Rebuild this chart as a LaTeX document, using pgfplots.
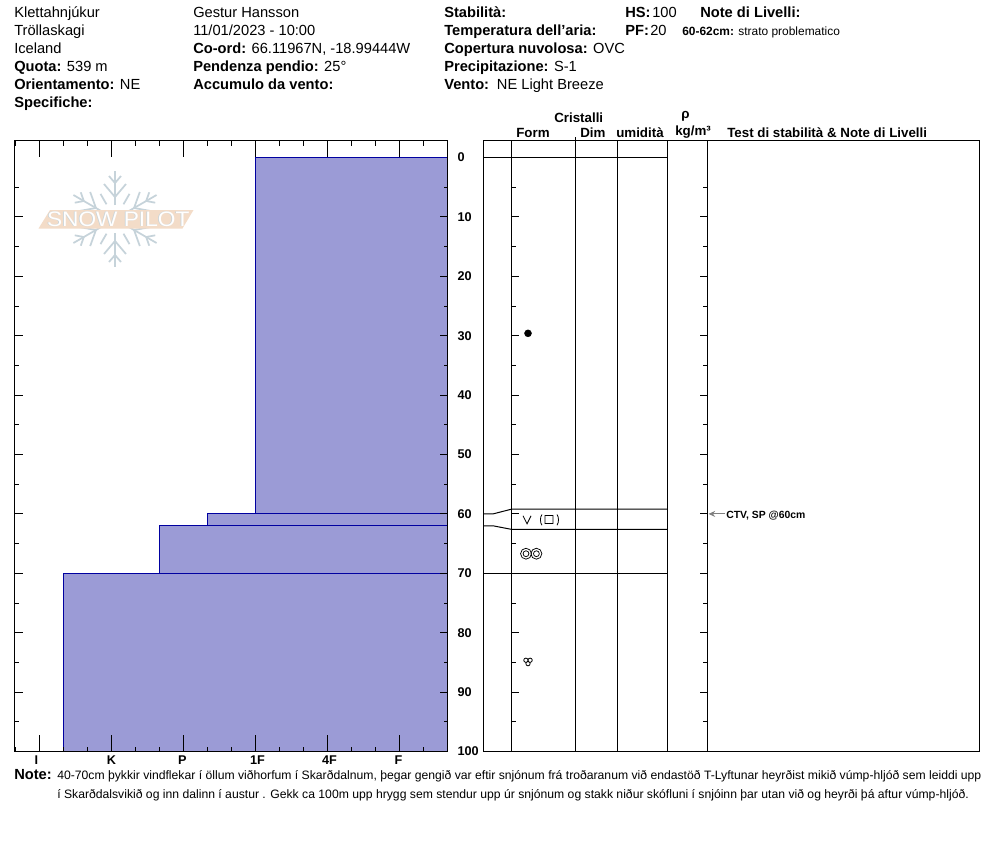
\documentclass[border=0pt]{standalone}
\usepackage{fontspec}
\setmainfont{Liberation Sans}
\usepackage{pgfplots}
\pgfplotsset{compat=1.18}
\usetikzlibrary{arrows.meta}

\definecolor{layerfill}{HTML}{9B9BD6}
\definecolor{layeredge}{HTML}{0000A0}
\definecolor{flake}{HTML}{C6D3DA}
\definecolor{peach}{HTML}{F3DCC8}

% crystal symbols, sizes in pixels of the reference (0.75pt)
\pgfdeclareplotmark{facet}{%
  \pgfsetlinewidth{0.6pt}%
  \pgfpathmoveto{\pgfpoint{-3pt}{3pt}}\pgfpathlineto{\pgfpoint{0pt}{-3pt}}\pgfpathlineto{\pgfpoint{3pt}{3pt}}%
  \pgfpathrectangle{\pgfpoint{13.5pt}{-2.8pt}}{\pgfpoint{6pt}{6pt}}%
  \pgfpathmoveto{\pgfpoint{11.2pt}{4pt}}\pgfpathcurveto{\pgfpoint{9.7pt}{2pt}}{\pgfpoint{9.7pt}{-2pt}}{\pgfpoint{11.2pt}{-4pt}}%
  \pgfpathmoveto{\pgfpoint{22.5pt}{4pt}}\pgfpathcurveto{\pgfpoint{24pt}{2pt}}{\pgfpoint{24pt}{-2pt}}{\pgfpoint{22.5pt}{-4pt}}%
  \pgfusepathqstroke}
\pgfdeclareplotmark{rounds}{%
  \pgfsetlinewidth{0.55pt}%
  \pgfpathcircle{\pgfpoint{0pt}{0pt}}{4.1pt}\pgfpathcircle{\pgfpoint{0pt}{0pt}}{2.2pt}%
  \pgfpathcircle{\pgfpoint{7.8pt}{0pt}}{4.1pt}\pgfpathcircle{\pgfpoint{7.8pt}{0pt}}{2.2pt}%
  \pgfusepathqstroke}
\pgfdeclareplotmark{trefoil}{%
  \pgfsetlinewidth{0.6pt}%
  \pgfpathcircle{\pgfpoint{-1.6pt}{1.2pt}}{1.6pt}\pgfpathcircle{\pgfpoint{1.6pt}{1.2pt}}{1.6pt}%
  \pgfpathcircle{\pgfpoint{0pt}{-1.4pt}}{1.6pt}%
  \pgfusepathqstroke}

\newcommand{\hdr}[3]{\node[anchor=base west,inner sep=0pt,font=\fontsize{11pt}{12pt}\selectfont] at (#1,#2) {#3};}
\newcommand{\col}[3]{\node[anchor=base west,inner sep=0pt,font=\fontsize{10pt}{11pt}\selectfont\bfseries] at (#1,#2) {#3};}

\pgfplotsset{
  snow/.style={
    scale only axis,
    y dir=reverse,
    ymin=-2.86, ymax=100,
    height=458.25pt,
    axis line style={line width=0.75pt},
    tick style={black,line width=0.75pt},
    tick align=inside,
    clip=false,
  },
}

\begin{document}
\begin{tikzpicture}
\begin{scope}[x=0.75pt,y=-0.75pt]
\path[use as bounding box] (0,0) rectangle (994,840);

% logo
\begin{scope}[shift={(115,219)},color=flake,line width=1.3pt]
\foreach \a in {30,90,150,210,270,330}{
  \begin{scope}[rotate=\a]
  \draw (14,0) -- (48,0);
  \draw (35,11) -- (22,0) -- (35,-11);
  \draw (43,6) -- (36,0) -- (43,-6);
  \end{scope}
}
\foreach \a in {60,120,240,300}{
  \draw (\a:17) -- (\a:29);
}
\end{scope}
\fill[peach] (38.5,228.5) -- (50,210) -- (193.5,210) -- (182.5,228.5) -- cycle;
\node[text=flake,inner sep=0pt] at (117.5,219.5) {\scalebox{1.62}[1.5]{\fontsize{10.5pt}{12pt}\selectfont SNOW PILOT}};
\node[text=white,inner sep=0pt] at (118.2,219.2) {\scalebox{1.62}[1.5]{\fontsize{10.5pt}{12pt}\selectfont SNOW PILOT}};

% header, first column
\hdr{14}{17}{Klettahnjúkur}
\hdr{14}{35}{Tröllaskagi}
\hdr{14}{53}{Iceland}
\hdr{14}{71}{\textbf{Quota:} 539 m}
\hdr{14}{89}{\textbf{Orientamento:} NE}
\hdr{14}{107}{\textbf{Specifiche:}}
% second column
\hdr{193}{17}{Gestur Hansson}
\hdr{193}{35}{11/01/2023 - 10:00}
\hdr{193}{53}{\textbf{Co-ord:} 66.11967N, -18.99444W}
\hdr{193}{71}{\textbf{Pendenza pendio:} 25°}
\hdr{193}{89}{\textbf{Accumulo da vento:}}
% third column
\hdr{444}{17}{\textbf{Stabilità:}}
\hdr{444}{35}{\textbf{Temperatura dell'aria:}}
\hdr{444}{53}{\textbf{Copertura nuvolosa:} OVC}
\hdr{444}{71}{\textbf{Precipitazione:} S-1}
\hdr{444}{89}{\textbf{Vento:}\, NE Light Breeze}
\hdr{625}{17}{\textbf{HS:}}
\hdr{652}{17}{100}
\hdr{625}{35}{\textbf{PF:}}
\hdr{650}{35}{20}
\hdr{700}{17}{\textbf{Note di Livelli:}}
\node[anchor=base west,inner sep=0pt,font=\fontsize{8.95pt}{10pt}\selectfont] at (682,35) {\textbf{60-62cm:} strato problematico};

% column heads
\col{554}{122}{Cristalli}
\col{516}{137}{Form}
\col{580}{137}{Dim}
\col{616}{137}{umidità}
\col{681}{118}{ρ}
\col{675}{135}{kg/m³}
\col{727}{137}{Test di stabilità \& Note di Livelli}

% note
\node[anchor=base west,inner sep=0pt,font=\fontsize{11pt}{12pt}\selectfont\bfseries] at (14,779) {Note:};
\node[anchor=base west,inner sep=0pt,font=\fontsize{9.14pt}{12pt}\selectfont] at (57,779) {40-70cm þykkir vindflekar í öllum viðhorfum í Skarðdalnum, þegar gengið var eftir snjónum frá troðaranum við endastöð T-Lyftunar heyrðist mikið vúmp-hljóð sem leiddi upp};
\node[anchor=base west,inner sep=0pt,font=\fontsize{9.14pt}{12pt}\selectfont] at (57,798) {í Skarðdalsvikið og inn dalinn í austur . Gekk ca 100m upp hrygg sem stendur upp úr snjónum og stakk niður skófluni í snjóinn þar utan við og heyrði þá aftur vúmp-hljóð.};

\node[anchor=base west,inner sep=0pt,font=\fontsize{7.8pt}{10pt}\selectfont\bfseries] at (726,518) {CTV, SP @60cm};
\end{scope}

% hardness profile: x ticks
\begin{axis}[snow,
    at={(14.5*0.75pt,-751.5*0.75pt)},
    width=324.75pt,
    xmin=-1.0333, xmax=17,
    xtick={0,3,6,9,12,15},
    xticklabels={\kern-2.25pt I\kern2.25pt,K,\kern-.75pt P\kern.75pt,\kern1.5pt 1F\kern-1.5pt,\kern1.5pt 4F\kern-1.5pt,\kern-.75pt F\kern.75pt},
    minor xtick={-1,1,2,4,5,7,8,10,11,13,14,16},
    ytick=\empty,
    major tick length=12.5pt,
    minor tick length=3.75pt,
    axis on top,
    xticklabel style={font=\fontsize{9.5pt}{11pt}\selectfont\bfseries},
]
\addplot[fill=layerfill,draw=layeredge,line width=0.75pt] coordinates {(9,0) (17,0) (17,60) (9,60)} -- cycle;
\addplot[fill=layerfill,draw=layeredge,line width=0.75pt] coordinates {(7,60) (17,60) (17,62) (7,62)} -- cycle;
\addplot[fill=layerfill,draw=layeredge,line width=0.75pt] coordinates {(5,62) (17,62) (17,70) (5,70)} -- cycle;
\addplot[fill=layerfill,draw=layeredge,line width=0.75pt] coordinates {(1,70) (17,70) (17,100) (1,100)} -- cycle;
\end{axis}

% hardness profile: depth ticks and labels
\begin{axis}[snow,
    at={(14.5*0.75pt,-751.5*0.75pt)},
    width=324.75pt,
    xmin=-1.0333, xmax=17,
    xtick=\empty,
    ytick={10,20,30,40,50,60,70,80,90},
    minor ytick={5,15,25,35,45,55,65,75,85,95},
    extra y ticks={0,100},
    extra y tick style={major tick length=0pt},
    major tick length=6pt,
    minor tick length=3pt,
    yticklabel pos=right,
    yticklabel style={anchor=west,xshift=4pt,font=\fontsize{9.5pt}{11pt}\selectfont\bfseries},
    /pgf/number format/assume math mode=true,
]
\end{axis}

% layer table
\begin{axis}[snow,
    at={(483.5*0.75pt,-751.5*0.75pt)},
    width=372pt,
    xmin=483.5, xmax=979.5,
    xtick=\empty, ytick=\empty,
]
\addplot[black,line width=0.75pt] coordinates {(511.5,-2.86) (511.5,100)};
\addplot[black,line width=0.75pt] coordinates {(575.5,-3.4) (575.5,100)};
\addplot[black,line width=0.75pt] coordinates {(617.5,-2.86) (617.5,100)};
\addplot[black,line width=0.75pt] coordinates {(667.5,-2.86) (667.5,100)};
\addplot[black,line width=0.75pt] coordinates {(707.5,-2.86) (707.5,100)};
\addplot[black,line width=0.75pt] coordinates {(483.5,0) (667.5,0)};
\addplot[black,line width=0.75pt] coordinates {(483.5,60) (493,60) (511.5,59.2) (667.5,59.2)};
\addplot[black,line width=0.75pt] coordinates {(483.5,62) (493,62) (511.5,62.6) (667.5,62.6)};
\addplot[black,line width=0.75pt] coordinates {(483.5,70) (667.5,70)};
\addplot[only marks,mark=*,mark size=2.6pt,black] coordinates {(528,29.6)};
\addplot[only marks,mark=facet,black] coordinates {(527,61)};
\addplot[only marks,mark=rounds,black] coordinates {(526,66.7)};
\addplot[only marks,mark=trefoil,black] coordinates {(528,84.9)};
\addplot[gray,line width=0.75pt,-{Stealth[length=5pt,width=4.5pt]}] coordinates {(725,60) (708.5,60)};
\end{axis}

% depth ticks on the table
\begin{axis}[snow,
    at={(511.5*0.75pt,-751.5*0.75pt)},
    width=147pt,
    xmin=0, xmax=1,
    xtick=\empty,
    ytick={10,20,30,40,50,60,70,80,90},
    minor ytick={5,15,25,35,45,55,65,75,85,95},
    yticklabels={},
    major tick length=5.75pt,
    minor tick length=3.5pt,
    axis line style={draw=none},
]
\end{axis}
\end{tikzpicture}
\end{document}
